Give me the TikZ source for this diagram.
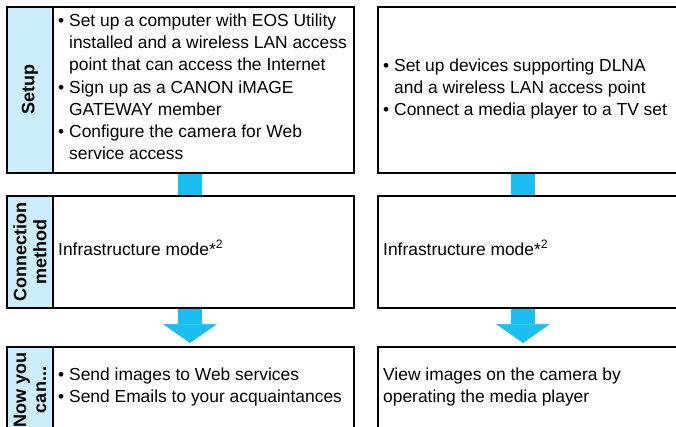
\documentclass[tikz,border=0pt]{standalone}
\usepackage{fontspec}
\setmainfont{Liberation Sans}
\usetikzlibrary{arrows.meta,backgrounds}
\definecolor{labblue}{RGB}{204,238,252}
\definecolor{arrowblue}{RGB}{26,190,240}
\newcommand\myb{\makebox[11pt][l]{\textbullet}}
\newcommand\myc{\hspace*{11pt}}
\newcommand\mystrut{\rule{0pt}{16pt}}
\begin{document}
\begin{tikzpicture}[x=1pt,y=-1pt,
  box/.style={draw=black, line width=2.8pt, inner sep=0pt, outer sep=0pt},
  lab/.style={draw=black, fill=labblue, line width=2.2pt, rotate=90, inner sep=0pt, outer sep=0pt, minimum height=46pt, align=center, font=\fontsize{18}{20}\selectfont\bfseries},
  txt/.style={anchor=north west, inner sep=0pt, align=left, font=\fontsize{17.4}{22.3}\selectfont},
  stem/.style={draw=arrowblue, line width=24pt},
  bigarrow/.style={stem, -{Triangle[width=54pt,length=19pt,line width=0.5pt]}}
]
\useasboundingbox (0,0) rectangle (676,427);
\clip (0,0) rectangle (676,427);
\coordinate (ax1) at (190,0);
\coordinate (ax2) at (523,0);
% label columns
\node[lab, minimum width=166pt] (l1) at (30,90) {Setup};
\node[lab, minimum width=112pt] (l2) at (30,252) {Connection\\method};
\node[lab, minimum width=86pt] (l3) at (30,390) {Now you\\can...};
% boxes
\node[box, minimum width=347pt, minimum height=166pt] (b1) at (180.5,90) {};
\node[box, minimum width=342pt, minimum height=166pt] (r1) at (549,90) {};
\node[box, minimum width=347pt, minimum height=112pt] (b2) at (180.5,252) {};
\node[box, minimum width=342pt, minimum height=112pt] (r2) at (549,252) {};
\node[box, minimum width=347pt, minimum height=86pt] (b3) at (180.5,390) {};
\node[box, minimum width=342pt, minimum height=86pt] (r3) at (549,390) {};
% connectors
\begin{pgfonlayer}{background}
\draw[stem] (b1.south -| ax1) -- (b2.north -| ax1);
\draw[stem] (r1.south -| ax2) -- (r2.north -| ax2);
\draw[bigarrow, shorten >=4pt] (b2.south -| ax1) -- (b3.north -| ax1);
\draw[bigarrow, shorten >=4pt] (r2.south -| ax2) -- (r3.north -| ax2);
\end{pgfonlayer}
% texts
\node[txt] (t1) at (58,10) {\mystrut\myb Set up a computer with EOS Utility\\
\myc installed and a wireless LAN access\\
\myc point that can access the Internet\\
\myb Sign up as a CANON iMAGE\\
\myc GATEWAY member\\
\myb Configure the camera for Web\\
\myc service access};
\node[txt] (t2) at (383,55) {\mystrut\myb Set up devices supporting DLNA\\
\myc and a wireless LAN access point\\
\myb Connect a media player to a TV set};
\node[txt] (t3) at (58,239) {\mystrut Infrastructure mode*\textsuperscript{2}};
\node[txt] (t4) at (383,239) {\mystrut Infrastructure mode*\textsuperscript{2}};
\node[txt] (t5) at (58,364) {\mystrut\myb Send images to Web services\\
\myb Send Emails to your acquaintances};
\node[txt] (t6) at (383,364) {\mystrut View images on the camera by\\
operating the media player};
\end{tikzpicture}
\end{document}
